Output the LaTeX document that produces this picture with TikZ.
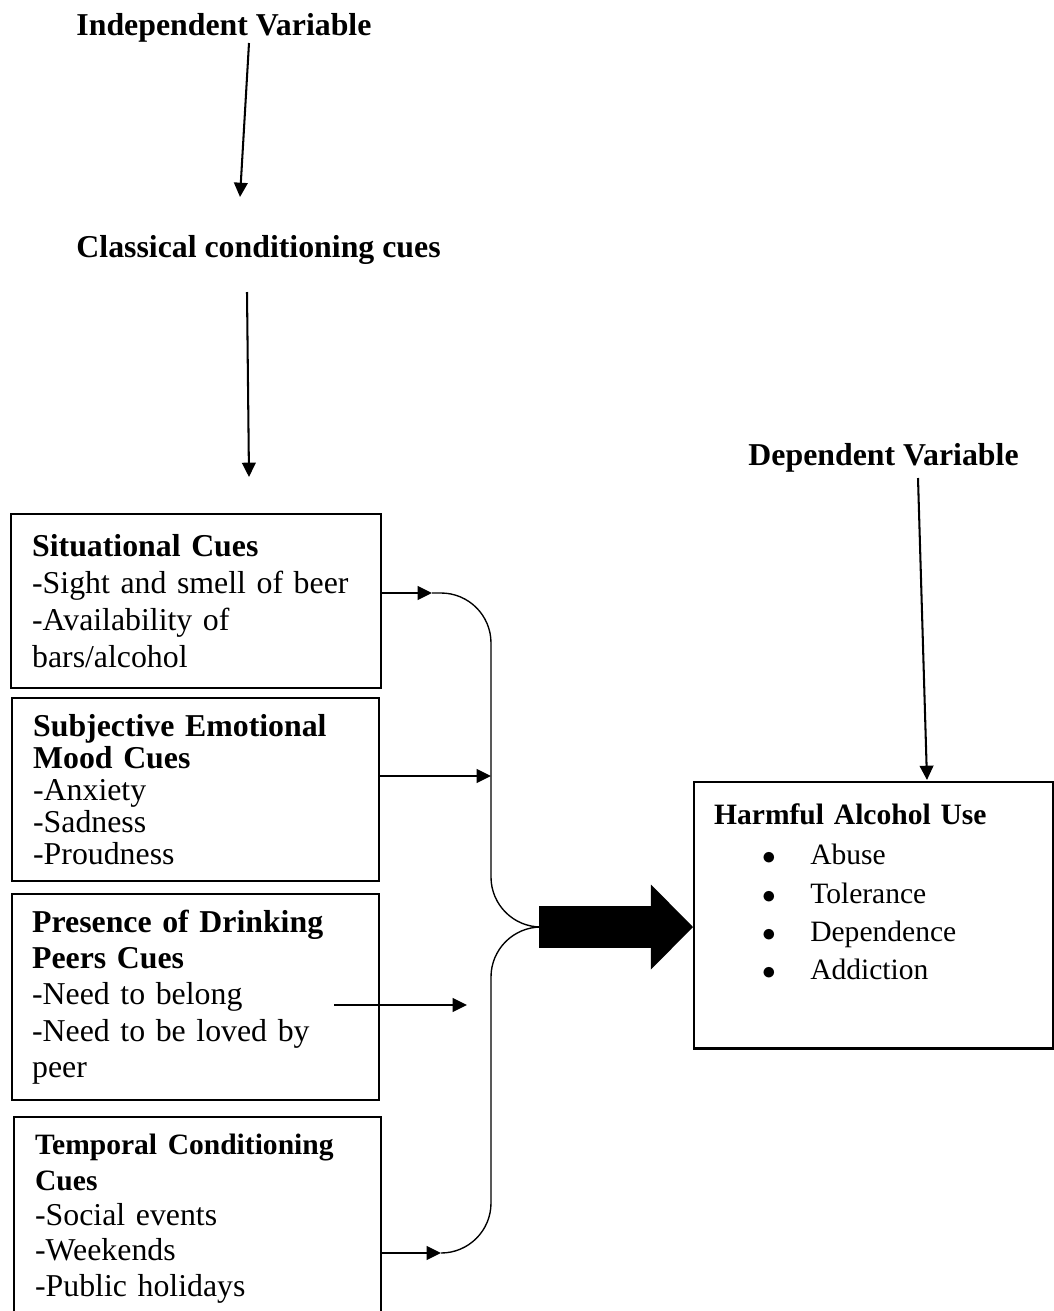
\documentclass[tikz,border=0pt]{standalone}
\usepackage{fontspec}
\setmainfont{Liberation Serif}
\usepackage{tikz}
\usetikzlibrary{arrows.meta,positioning}
\newlength\pxl
\setlength\pxl{0.44pt}

\begin{document}
\begin{tikzpicture}[x=0.44pt,y=-0.44pt,
   title/.style={font=\fontsize{14}{16}\selectfont\bfseries,inner sep=0pt,anchor=base west},
   cuebox/.style={draw,line width=1pt,anchor=north west,align=left,inner ysep=0pt},
   flow/.style={line width=0.9pt,-{Triangle[length=6.3pt,width=6pt]}},
   bracket/.style={line width=0.6pt,rounded corners=50\pxl},
   bigflow/.style={line width=18.5pt,-{Triangle[length=18.5pt,width=37.4pt,line width=0pt]}}]
  \useasboundingbox (0,0) rectangle (1054,1311);
  \clip (0,0) rectangle (1054,1311);

  \node (iv) [title] at (76,35) {Independent Variable};
  \node (ccc) [title] at (76,257) {Classical conditioning cues};
  \node (dv) [title] at (748,465) {Dependent Variable};

  \node (sit) [cuebox,inner xsep=21\pxl,text width=328\pxl,minimum height=174\pxl,
     font=\fontsize{14}{16.4}\selectfont] at (10,513)
     {\textbf{Situational Cues}\\-Sight and smell of beer\\-Availability of\\bars/alcohol};
  \node (mood) [cuebox,inner xsep=21\pxl,text width=325\pxl,minimum height=183\pxl,
     font=\fontsize{14}{14}\selectfont] at (11,697)
     {\textbf{Subjective Emotional}\\\textbf{Mood Cues}\\-Anxiety\\-Sadness\\-Proudness};
  \node (peer) [cuebox,inner xsep=20\pxl,text width=327\pxl,minimum height=206\pxl,
     font=\fontsize{14}{16}\selectfont] at (11,893)
     {\textbf{Presence of Drinking}\\\textbf{Peers Cues}\\-Need to belong\\-Need to be loved by\\peer};
  \node (temp) [cuebox,inner xsep=21\pxl,text width=325\pxl,minimum height=203\pxl,
     font=\fontsize{14}{15.6}\selectfont] at (13,1116)
     {{\fontsize{13}{15.6}\selectfont\bfseries Temporal Conditioning}\\
      {\fontsize{13}{15.6}\selectfont\bfseries Cues}\\-Social events\\-Weekends\\-Public holidays};
  \node (harm) [cuebox,inner xsep=20\pxl,inner ysep=21.6\pxl,text width=319\pxl,text depth=202.4\pxl,
     font=\fontsize{13}{16.9}\selectfont] at (693,781)
     {\textbf{Harmful Alcohol Use}\\[0.75pt]
      \hspace*{48\pxl}$\bullet$\hspace*{34.5\pxl}Abuse\\
      \hspace*{48\pxl}$\bullet$\hspace*{34.5\pxl}Tolerance\\
      \hspace*{48\pxl}$\bullet$\hspace*{34.5\pxl}Dependence\\
      \hspace*{48\pxl}$\bullet$\hspace*{34.5\pxl}Addiction};

  \coordinate (iv-out) at (249,43);
  \coordinate (ccc-in) at (240,197);
  \coordinate (ccc-out) at (247,292);
  \coordinate (cues-in) at (249,477);
  \coordinate (dv-out) at (918,478);
  \coordinate (harm-in) at (927,780);
  \coordinate (j1) at (432,593);
  \coordinate (j2) at (491,776);
  \coordinate (p1) at (334,1005);
  \coordinate (j3) at (467,1005);
  \coordinate (j4) at (441,1253);
  \coordinate (join) at (539,927);

  \draw[flow] (iv-out) -- (ccc-in);
  \draw[flow] (ccc-out) -- (cues-in);
  \draw[flow] (dv-out) -- (harm-in);
  \draw[flow] (sit.east |- j1) -- (j1);
  \draw[flow] (mood.east |- j2) -- (j2);
  \draw[flow] (p1) -- (j3);
  \draw[flow] (temp.east |- j4) -- (j4);
  \draw[bracket] (j1) -| (join -| j2) -- (join);
  \draw[bracket] (j4) -| (join -| j2) -- (join);
  \draw[bigflow] (join) -- (harm.west |- join);
\end{tikzpicture}
\end{document}
